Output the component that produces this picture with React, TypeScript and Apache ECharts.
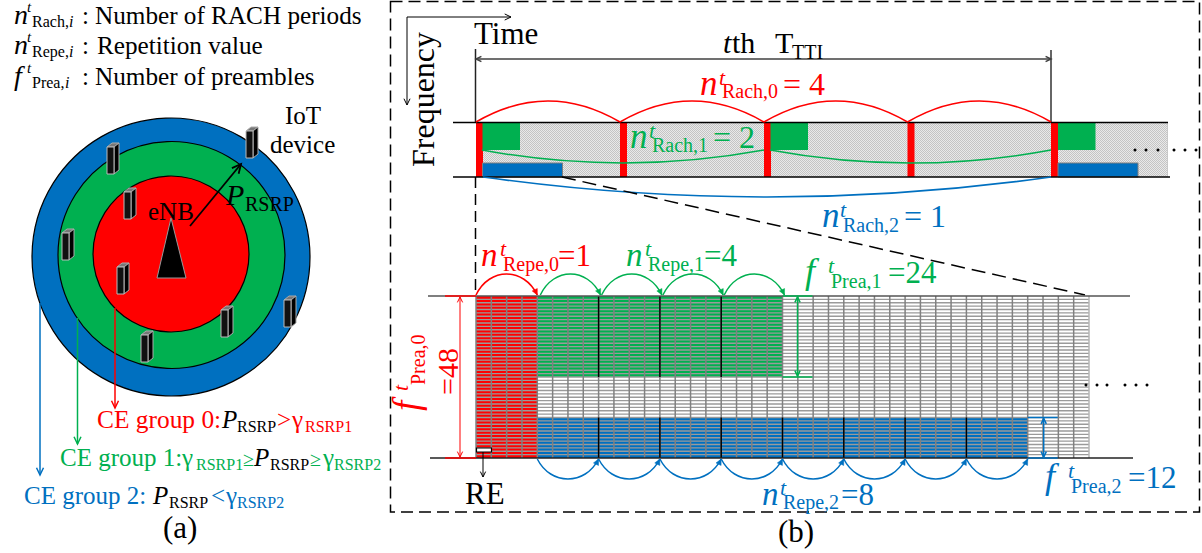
import React, { useEffect, useRef } from "react";
import * as echarts from "echarts";

// Values
const nRach = [4, 2, 1];
const nRepe = [1, 4, 8];
const fPrea = [48, 24, 12];
const gridCols = 40;
const colsPerRepetition = 4;
const legendTexts = ["Number of RACH periods", "Repetition value", "Number of preambles"];
const panelLabels = ["(a)", "(b)"];

const RED = "#ff0000", GREEN = "#00b050", BLUE = "#0070c0", BLACK = "#000000";
const FONT = "'Liberation Serif', 'Times New Roman', serif";

const z = (o: any, i: number) => ({ silent: true, z: i, ...o });
const els: any[] = [];
let zi = 1;

function txt(text: string, x: number, base: number, size: number, fill = BLACK, italic = false, out: any[] = els) {
  out.push(z({
    type: "text", x, y: base - size * 0.3375,
    style: { text, fontSize: size, fontFamily: FONT, fontStyle: italic ? "italic" : "normal", fill, textAlign: "left", textVerticalAlign: "middle" },
  }, 100 + zi++));
}
function line(x1: number, y1: number, x2: number, y2: number, stroke: string, lineWidth = 1.5, lineDash?: number[], level = 0) {
  els.push(z({ type: "line", shape: { x1, y1, x2, y2 }, style: { stroke, lineWidth, lineDash, fill: "none" } }, level || zi++));
}
function rect(x: number, y: number, width: number, height: number, fill: any, stroke?: string, lineWidth = 1) {
  els.push(z({ type: "rect", shape: { x, y, width, height }, style: { fill, stroke, lineWidth } }, zi++));
}
function head(x: number, y: number, ang: number, color: string, size = 6, filled = false, lw = 1.5) {
  const a1 = ang + Math.PI - 0.45, a2 = ang + Math.PI + 0.45;
  const pts = [[x + size * Math.cos(a1), y + size * Math.sin(a1)], [x, y], [x + size * Math.cos(a2), y + size * Math.sin(a2)]];
  if (filled) els.push(z({ type: "polygon", shape: { points: pts }, style: { fill: color, stroke: color, lineWidth: 0.5 } }, zi++));
  else els.push(z({ type: "polyline", shape: { points: pts }, style: { stroke: color, lineWidth: lw, fill: "none" } }, zi++));
}
function arrow(x1: number, y1: number, x2: number, y2: number, color: string, lw = 1.5, size = 7) {
  line(x1, y1, x2, y2, color, lw);
  head(x2, y2, Math.atan2(y2 - y1, x2 - x1), color, size, false, lw);
}
function dblArrow(x1: number, y1: number, x2: number, y2: number, color: string, lw = 1.5, size = 7) {
  arrow(x1, y1, x2, y2, color, lw, size);
  head(x1, y1, Math.atan2(y1 - y2, x1 - x2), color, size, false, lw);
}
function arc(x1: number, x2: number, y: number, peak: number, color: string, lw = 1.5) {
  const cpy = y + 2 * (peak - y);
  els.push(z({ type: "bezierCurve", shape: { x1, y1: y, x2, y2: y, cpx1: (x1 + x2) / 2, cpy1: cpy }, style: { stroke: color, lineWidth: lw, fill: "none" } }, zi++));
}
function hop(x1: number, x2: number, y: number, peak: number, color: string) {
  const cpy = y + (peak - y) * 4 / 3;
  const w = x2 - x1;
  els.push(z({ type: "bezierCurve", shape: { x1, y1: y, x2, y2: y, cpx1: x1 + w * 0.22, cpy1: cpy, cpx2: x2 - w * 0.22, cpy2: cpy }, style: { stroke: color, lineWidth: 1.5, fill: "none" } }, zi++));
  head(x2, y, Math.atan2(y - cpy, w * 0.22), color, 6.5, true);
}
function circle(cx: number, cy: number, r: number, fill: string) {
  els.push(z({ type: "circle", shape: { cx, cy, r }, style: { fill, stroke: BLACK, lineWidth: 1.2 } }, zi++));
}
function device(x: number, y: number) {
  const w = 7, d = 5, h = 31, t = 4;
  els.push(z({ type: "polygon", shape: { points: [[x, y + t], [x + d, y], [x + w + d, y], [x + w, y + t]] }, style: { fill: "#777", stroke: "#aaa", lineWidth: 1 } }, zi++));
  els.push(z({ type: "polygon", shape: { points: [[x + w, y + t], [x + w + d, y], [x + w + d, y + h - t], [x + w, y + h]] }, style: { fill: "#000", stroke: "#aaa", lineWidth: 1 } }, zi++));
  rect(x, y + t, w, h - t, "#111", "#bbb", 1);
}
function dots(xs: number[], y: number) {
  xs.forEach((cx) => els.push(z({ type: "circle", shape: { cx, cy: y, r: 1.5 }, style: { fill: BLACK } }, zi++)));
}
function eq(c: string, f: string, fx: number, base: number, tx: number, sub: string, subBase: number, rest: string, restX: number, fs = 34, rs = 32) {
  txt(f, fx, base, fs, c, true);
  txt("t", tx - 3, base - 10, 22, c, true);
  txt(sub, tx, subBase, 20, c);
  txt(rest, restX, base, rs, c);
}

function buildFigure() {
  els.length = 0; zi = 1;
  // ---------- legend (a)
  const leg: [string, string, number, number, number][] = [
    ["n", "Rach,", 14, 24, 95],
    ["n", "Repe,", 14, 54, 97],
    ["f", "Prea,", 14, 85, 95],
  ];
  leg.forEach(([f, s, x, b, lx], i) => {
    txt(f, x, b, 28, BLACK, true);
    txt("t", 27, b - 12, 15, BLACK, true);
    txt(s, 32, b + 3, 16);
    txt("i", i === 2 ? 65 : 69, b + 3, 16, BLACK, true);
    txt(":", 82, b, 25);
    txt(legendTexts[i], lx, b, 25.2);
  });
  // ---------- circles
  circle(171, 257, 139, BLUE);
  circle(171.5, 255, 113.5, GREEN);
  circle(171, 254, 78, RED);
  els.push(z({ type: "polygon", shape: { points: [[171, 218], [157, 278], [186, 278]] }, style: { fill: BLACK, stroke: "#999", lineWidth: 1 } }, zi++));
  [[246, 127], [107, 143], [124, 188], [62, 229], [117, 263], [221, 306], [284, 296], [141, 331]].forEach(([x, y]) => device(x, y));
  arrow(190, 226, 241, 164, BLACK, 1.8, 10);
  txt("IoT", 285, 124, 25);
  txt("device", 270, 153, 25);
  txt("eNB", 148, 220, 25);
  txt("P", 226, 205, 30, BLACK, true);
  txt("RSRP", 245, 211, 20);
  arrow(115, 308, 115, 408, RED, 1.5, 8);
  arrow(77.5, 318, 77.5, 444, GREEN, 1.5, 8);
  arrow(40, 303, 40, 475, BLUE, 1.5, 8);
  // CE group lines
  txt("CE group 0:", 97, 428, 25.4, RED);
  txt("P", 222, 428, 25, BLACK, true);
  txt("RSRP", 237, 432, 16);
  txt(">", 277, 428, 25, RED);
  txt("γ", 292, 428, 25, RED);
  txt("RSRP1", 305, 432, 16, RED);

  txt("CE group 1:", 60, 466, 25, GREEN);
  txt("γ", 182, 466, 25, GREEN);
  txt("RSRP1", 196, 470, 16, GREEN);
  txt("≥", 243, 466, 20, GREEN);
  txt("P", 254, 466, 25, BLACK, true);
  txt("RSRP", 270, 470, 16);
  txt("≥", 310, 466, 20, GREEN);
  txt("γ", 323, 466, 25, GREEN);
  txt("RSRP2", 334, 470, 16, GREEN);

  txt("CE group 2:", 24, 504, 25, BLUE);
  txt("P", 153, 504, 25, BLACK, true);
  txt("RSRP", 169, 508, 16);
  txt("<", 211, 504, 25, BLUE);
  txt("γ", 226, 504, 25, BLUE);
  txt("RSRP2", 237, 508, 16, BLUE);
  txt(panelLabels[0], 163, 538, 31);
  txt(panelLabels[1], 778, 542, 31);

  // ---------- frame (b)
  els.push(z({ type: "rect", shape: { x: 390.5, y: 1.5, width: 809, height: 510.5 }, style: { fill: "none", stroke: BLACK, lineWidth: 1.5, lineDash: [12, 6] } }, zi++));
  // time/frequency axes
  arrow(407, 17, 511, 17, BLACK, 1, 7);
  arrow(407, 17, 407, 105, BLACK, 1, 7);
  txt("Time", 474, 44, 31);
  const fq: any[] = [];
  txt("Frequency", 0, 0, 32, BLACK, false, fq);
  els.push(z({ type: "group", children: fq, x: 434, y: 167, rotation: Math.PI / 2 }, 200));
  // T_TTI
  line(475.5, 49, 475.5, 122, "#222", 1.5);
  line(1051, 50, 1051, 122, "#333", 1.5);
  dblArrow(476, 59, 1051, 59, "#404040", 1.5, 6);
  txt("t", 723, 53, 30, BLACK, true);
  txt("th", 732, 53, 30);
  txt("T", 775, 53, 30);
  txt("TTI", 792, 59, 20);

  // ---------- top band
  const pat = document.createElement("canvas");
  pat.width = pat.height = 2;
  const g = pat.getContext("2d")!;
  g.fillStyle = "#e9e9e9"; g.fillRect(0, 0, 2, 2);
  g.fillStyle = "#c4c4c4"; g.fillRect(0, 0, 1, 1); g.fillRect(1, 1, 1, 1);
  rect(476, 122, 691, 55, "#dcdcdc");
  els.push(z({ type: "rect", shape: { x: 476, y: 122, width: 691, height: 55 }, style: { fill: { image: pat, repeat: "repeat" } } }, zi++));
  line(1167.5, 122, 1167.5, 177, "#c8c8c8", 1);
  const periodX = [476, 620, 764, 907.5, 1051];
  periodX.forEach((x) => rect(x, 122, 7, 55, RED));
  [482.5, 770.5, 1058].forEach((x) => rect(x, 122.5, 37.5, 27.5, GREEN));
  [482.5, 1058].forEach((x) => rect(x, 163, 80, 14, BLUE, "#7f7f7f", 1));
  line(453, 122.5, 1168, 122.5, BLACK, 1.5);
  line(453, 177, 1170, 177, BLACK, 1.5);
  for (let i = 0; i < nRach[0]; i++) arc(periodX[i], periodX[i + 1], 122, 101, RED);
  for (let i = 0; i < nRach[1]; i++) arc(periodX[i * 2] + 6, periodX[i * 2 + 2], 150, 163, GREEN);
  for (let i = 0; i < nRach[2]; i++) arc(483, 1051, 177, 197, BLUE);
  dots([1135, 1146, 1158, 1174, 1185, 1196], 150);

  // zoom dashes
  line(475.5, 177, 475.5, 295, BLACK, 1.5, [11, 6]);
  line(562, 177, 1085, 295, BLACK, 1.5, [14, 7]);

  // ---------- resource grid
  const gx0 = 476, gx1 = 1089, gy0 = 296, gy1 = 458;
  const cw = (gx1 - gx0) / gridCols, rh = (gy1 - gy0) / fPrea[0];
  const rep = colsPerRepetition * cw;
  const x0End = gx0 + nRepe[0] * rep;
  rect(gx0, gy0, nRepe[0] * rep, gy1 - gy0, RED);
  rect(x0End, gy0, nRepe[1] * rep, fPrea[1] * rh, GREEN);
  rect(x0End, gy1 - fPrea[2] * rh, nRepe[2] * rep, fPrea[2] * rh, BLUE);
  for (let r = 1; r < fPrea[0]; r++) {
    const y = gy0 + r * rh;
    line(gx0, y, gx1, y, "#9a9a9a", 1.4);
  }
  for (let c = 0; c <= gridCols; c++) {
    const x = gx0 + c * cw;
    line(x, gy0, x, gy1, c === gridCols ? "#b5b5b5" : "#808080", 1.5);
  }
  for (let i = 1; i < nRepe[1]; i++) line(x0End + i * rep, gy0, x0End + i * rep, gy0 + fPrea[1] * rh, BLACK, 1.5);
  for (let i = 1; i < nRepe[2]; i++) line(x0End + i * rep, gy1 - fPrea[2] * rh, x0End + i * rep, gy1, BLACK, 1.5);
  line(428, gy0, 1130, gy0, "#555", 1.5);
  line(430, gy1, 1133, gy1, "#222", 1.5);
  line(445, gy0, gx0, gy0, RED, 1.5);
  line(445, gy1, gx0, gy1, RED, 1.5);
  dblArrow(460, gy0 + 1, 460, gy1 - 1, RED, 1, 6);
  // group 1 / 2 brackets
  const gEnd = x0End + nRepe[1] * rep, bEnd = x0End + nRepe[2] * rep;
  line(gEnd, gy0, gEnd + 30, gy0, GREEN, 1.5);
  line(gEnd, gy0 + fPrea[1] * rh, gEnd + 30, gy0 + fPrea[1] * rh, GREEN, 1.5);
  dblArrow(gEnd + 15, gy0 + 1, gEnd + 15, gy0 + fPrea[1] * rh - 1, GREEN, 1.5, 6);
  line(bEnd, gy1 - fPrea[2] * rh, bEnd + 30, gy1 - fPrea[2] * rh, BLUE, 1.5);
  line(bEnd, gy1, bEnd + 30, gy1, BLUE, 1.5);
  dblArrow(bEnd + 16, gy1 - fPrea[2] * rh + 1, bEnd + 16, gy1 - 1, BLUE, 1.5, 6);
  // hops
  hop(gx0, x0End, gy0 - 1, 274, RED);
  for (let i = 0; i < nRepe[1]; i++) hop(x0End + i * rep + 3, x0End + (i + 1) * rep + 2, gy0 - 1, 274, GREEN);
  for (let i = 0; i < nRepe[2]; i++) hop(x0End + i * rep, x0End + (i + 1) * rep, gy1 + 1, 479, BLUE);
  // RE
  rect(476.5, 448, 15, 4, "#fff", BLACK, 1.2);
  arrow(483, 452, 483, 477, BLACK, 1, 6);
  txt("RE", 465, 504, 31);
  dots([1086, 1097, 1107, 1125, 1136, 1147], 385);

  // ---------- labels
  eq(RED, "n", 700, 95, 722, "Rach,0", 98, "= " + nRach[0], 783, 35);
  eq(GREEN, "n", 630, 148, 652, "Rach,1", 152, "= " + nRach[1], 713, 35);
  eq(BLUE, "n", 822, 227, 843, "Rach,2", 232, "= " + nRach[2], 904, 35);
  eq(RED, "n", 481, 266, 503, "Repe,0", 271, "=" + nRepe[0], 558, 33, 31);
  eq(GREEN, "n", 626, 266, 648, "Repe,1", 271, "=" + nRepe[1], 704, 33, 31);
  eq(BLUE, "n", 762, 505, 783, "Repe,2", 509, "=" + nRepe[2], 841, 33, 31);
  eq(GREEN, "f", 805, 283, 831, "Prea,1", 288, "=" + fPrea[1], 888, 36, 31);
  eq(BLUE, "f", 1045, 488, 1071, "Prea,2", 493, "=" + fPrea[2], 1128, 36, 31);
  // rotated f Prea,0 =48
  const rot: any[] = [];
  txt("f", 0, 0, 37, RED, true, rot);
  txt("t", 20, -11, 22, RED, true, rot);
  txt("Prea,0", 26, 6, 20, RED, false, rot);
  els.push(z({ type: "group", x: 419, y: 411, rotation: Math.PI / 2, children: rot }, 201));
  const rot2: any[] = [];
  txt("=" + fPrea[0], 0, 0, 30, RED, false, rot2);
  els.push(z({ type: "group", x: 458, y: 395, rotation: Math.PI / 2, children: rot2 }, 202));
}

export default function App() {
  const ref = useRef<HTMLDivElement>(null);
  useEffect(() => {
    document.body.style.margin = "0";
    document.body.style.background = "#fff";
    const chart = echarts.init(ref.current!, null, { renderer: "svg" });
    buildFigure();
    chart.setOption({ animation: false, backgroundColor: "#fff", graphic: { elements: els } });
    return () => chart.dispose();
  }, []);
  return <div ref={ref} style={{ width: 1202, height: 553 }} />;
}
